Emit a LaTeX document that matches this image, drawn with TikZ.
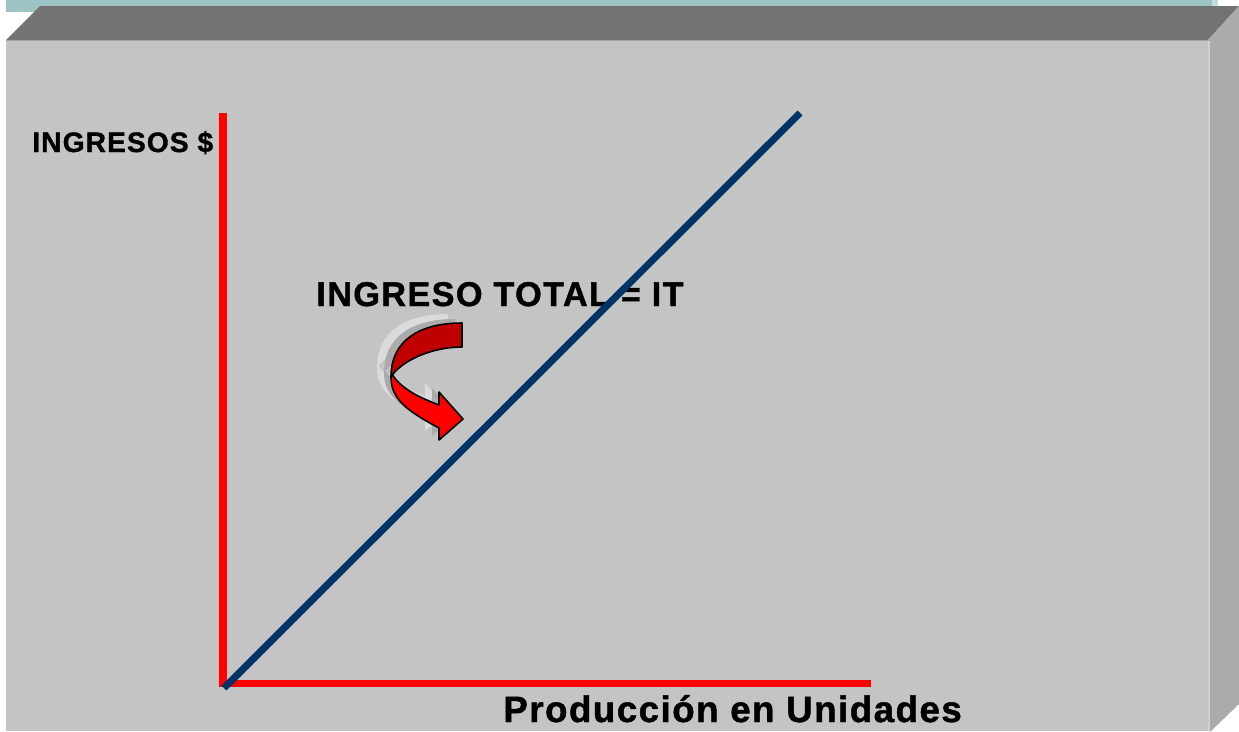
\documentclass[tikz,border=0pt]{standalone}
\usepackage{fontspec}
\setmainfont{Liberation Sans}
\newfontfamily\labelfont[LetterSpace=4, BoldFeatures={FakeBold=1.2}]{Liberation Sans}
\definecolor{slidegray}{HTML}{C4C4C4}
\definecolor{topgray}{HTML}{737373}
\definecolor{sidegray}{HTML}{ABABAB}
\definecolor{bandteal}{HTML}{9CC4C4}
\definecolor{itblue}{HTML}{003366}
\definecolor{darkred}{HTML}{C00000}
\tikzset{
  axis/.style={red, line width=4pt},
  itline/.style={itblue, line width=4pt},
  label/.style={inner sep=0pt, anchor=base west, font=\labelfont\bfseries},
  shade1/.style={fill=black!14, draw=none},
  shade2/.style={fill=black!33, draw=none},
}
% red ribbon arrow, pixel units
\newcommand{\ribbontop}{(462,323) .. controls (420,323) and (391,340) .. (391,377)
  .. controls (400,362) and (430,347) .. (462,347) -- cycle}
\newcommand{\ribbonlow}{(391,377) .. controls (391,398) and (405,410) .. (439,428)
  -- (439,440) -- (463,419) -- (439,392) -- (439,405)
  .. controls (420,398) and (400,388) .. (392,374) -- cycle}
\begin{document}
\begin{tikzpicture}[x=0.02cm, y=-0.02cm]
  \useasboundingbox (0,0) rectangle (1239,731);
  % slide box
  \fill[bandteal] (6,0) rectangle (1212,12);
  \fill[bandteal!60!white] (1212,0) rectangle (1218,6);
  \fill[topgray] (6,40) -- (40,6) -- (1239,6) -- (1208,40) -- cycle;
  \fill[sidegray] (1208,40) -- (1239,6) -- (1239,704) -- (1211,731) -- (1208,731) -- cycle;
  \fill[slidegray] (6,40) rectangle (1208,731);
  \draw[black!36, line width=1pt] (6,40.5) -- (1208,40.5);
  \draw[black!18, line width=1.5pt] (1209,41) -- (1209,731);

  % labels
  \node[label, font=\labelfont\bfseries\fontsize{16}{18}\selectfont] (ylabel) at (32,152) {INGRESOS \$};
  \node[label, font=\labelfont\bfseries\fontsize{19.5}{22}\selectfont] (itlabel) at (316,306) {INGRESO TOTAL = IT};
  \node[label, font=\labelfont\bfseries\fontsize{20.9}{24}\selectfont] (xlabel) at (503,722) {Producción en Unidades};

  % axes
  \coordinate (ytop) at (223,113);
  \coordinate (origin) at (223,683);
  \coordinate (xend) at (871,683);
  \draw[axis, line join=miter] (ytop) -- (origin) -- (xend);

  % ingreso total
  \coordinate (itstart) at (224,688);
  \coordinate (itend) at (800,113);
  \draw[itline] (itstart) -- (itend);

  % curved arrow with its shadow
  \begin{scope}[shift={(-14,-9)}]
    \fill[shade1] \ribbontop;
    \fill[shade1] \ribbonlow;
  \end{scope}
  \begin{scope}[shift={(-7,-4)}]
    \fill[shade2] \ribbontop;
    \fill[shade2] \ribbonlow;
  \end{scope}
  \draw[fill=darkred, line width=0.9pt, line join=round] \ribbontop;
  \draw[fill=red, line width=0.9pt, line join=round] \ribbonlow;
\end{tikzpicture}
\end{document}
